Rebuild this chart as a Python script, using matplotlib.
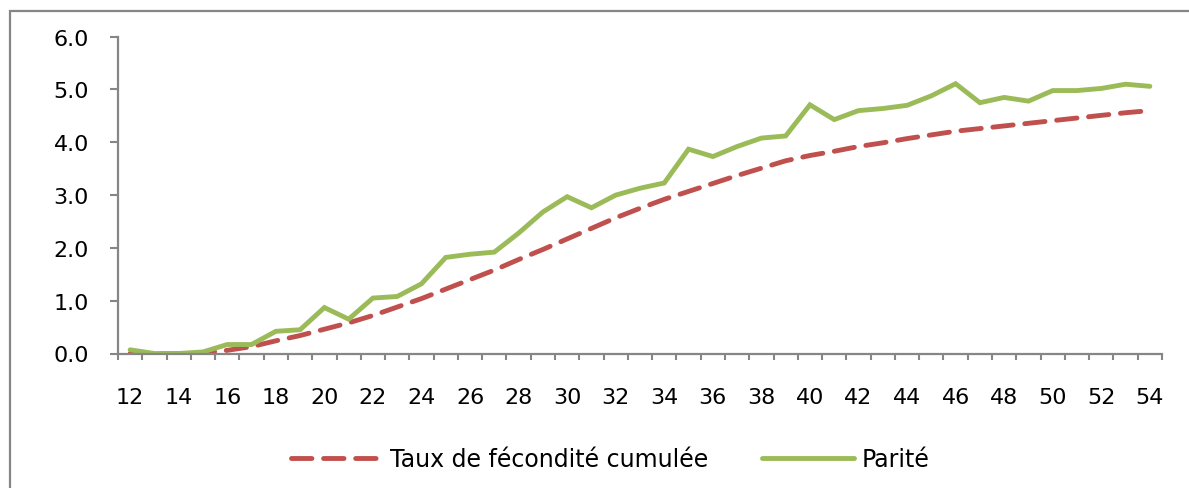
import matplotlib.pyplot as plt
import numpy as np
from matplotlib.patches import Rectangle

ages = list(range(12, 55))

# Taux de fécondité cumulée
tfc = [0.00, 0.00, 0.00, 0.01, 0.06, 0.13, 0.24, 0.34, 0.46, 0.58,
       0.72, 0.88, 1.04, 1.22, 1.40, 1.58, 1.78, 1.97, 2.17, 2.37,
       2.57, 2.75, 2.92, 3.07, 3.22, 3.37, 3.51, 3.65, 3.75, 3.83,
       3.92, 3.99, 4.07, 4.14, 4.21, 4.26, 4.31, 4.36, 4.41, 4.46,
       4.51, 4.56, 4.60]

# Parité
parite = [0.07, 0.00, 0.00, 0.03, 0.17, 0.17, 0.42, 0.45, 0.87, 0.65,
          1.05, 1.08, 1.32, 1.82, 1.88, 1.92, 2.28, 2.68, 2.97, 2.76,
          3.00, 3.13, 3.23, 3.87, 3.73, 3.92, 4.08, 4.12, 4.71, 4.43,
          4.60, 4.64, 4.70, 4.88, 5.11, 4.75, 4.85, 4.78, 4.98, 4.98,
          5.02, 5.10, 5.06]

labels = ["Taux de fécondité cumulée", "Parité"]
red = "#C0504D"
green = "#9BBB59"
gray = "#868686"


def main():
    W, H = 1189, 489
    fig = plt.figure(figsize=(W / 100, H / 100), dpi=100)
    ax = fig.add_axes([118 / W, (H - 354.5) / H, (1162 - 118) / W, (354.5 - 37.7) / H])

    l1, = ax.plot(ages, tfc, color=red, lw=3.5, linestyle=(0, (4.2, 2.4)),
                  dash_capstyle="round", solid_capstyle="round")
    l2, = ax.plot(ages, parite, color=green, lw=3.5, solid_capstyle="round",
                  solid_joinstyle="miter")

    ax.set_xlim(11.5, 54.5)
    ax.set_ylim(0, 6)
    ax.set_xticks(np.arange(12, 55, 2))
    ax.set_xticks(np.arange(11.5, 55, 1), minor=True)
    ax.set_yticks(np.arange(0, 6.1, 1))
    ax.set_yticklabels(["%.1f" % v for v in np.arange(0, 6.1, 1)])

    for s in ["top", "right"]:
        ax.spines[s].set_visible(False)
    for s in ["left", "bottom"]:
        ax.spines[s].set_color(gray)
        ax.spines[s].set_linewidth(1.6)

    ax.tick_params(axis="x", which="major", length=0, pad=24, labelsize=16)
    ax.tick_params(axis="x", which="minor", length=4.5, width=1.5, color=gray, direction="out")
    ax.tick_params(axis="y", length=6, width=1.5, color=gray, pad=15, labelsize=16)

    fig.legend([l1, l2], labels, loc="center", bbox_to_anchor=(610 / W, 1 - 460 / H),
               ncol=2, frameon=False, fontsize=17, handlelength=3.9,
               handletextpad=0.3, columnspacing=2.3)

    # cadre du graphique
    fig.patches.append(Rectangle((10 / W, -0.1), 1.2, 1.1 - 12 / H, transform=fig.transFigure,
                                 fill=False, edgecolor=gray, linewidth=1.6))

    plt.savefig("out.png", dpi=100)


if __name__ == '__main__':
    main()
